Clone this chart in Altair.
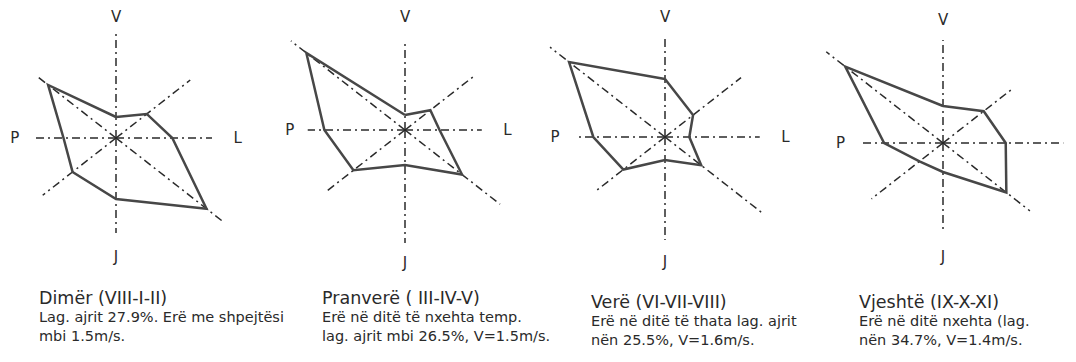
import math
import altair as alt
import pandas as pd

# ---------------- data ----------------
directions = ["V", "VL", "L", "JL", "J", "JP", "P", "VP"]
angles = [0, 45, 90, 135, 180, 225, 270, 315]

seasons = ["Dimër", "Pranverë", "Verë", "Vjeshtë"]
dimer = [21, 34, 44, 100, 61, 48, 41, 75]
pranvere = [15, 28, 27, 63, 35, 57, 63, 109]
vere = [58, 31, 19, 40, 23, 46, 56, 106]
vjeshte = [37, 45, 49, 70, 29, 26, 46, 108]
series = [dimer, pranvere, vere, vjeshte]

# length of the dash-dot direction lines, per season
axis_len_dimer = [106, 82, 75, 119, 95, 81, 65, 88]
axis_len_pranvere = [88, 77, 60, 105, 113, 87, 76, 126]
axis_len_vere = [98, 84, 74, 107, 103, 78, 70, 127]
axis_len_vjeshte = [103, 76, 94, 96, 90, 79, 64, 129]
axis_lens = [axis_len_dimer, axis_len_pranvere, axis_len_vere, axis_len_vjeshte]

axis_labels = ["V", "L", "J", "P"]
label_angles = [0, 90, 180, 270]
label_r_dimer = [121, 95, 119, 79]
label_r_pranvere = [113, 80, 133, 90]
label_r_vere = [120, 94, 125, 86]
label_r_vjeshte = [123, 105, 114, 80]
label_rs = [label_r_dimer, label_r_pranvere, label_r_vere, label_r_vjeshte]

titles = ["Dimër (VIII-I-II)", "Pranverë ( III-IV-V)", "Verë (VI-VII-VIII)", "Vjeshtë (IX-X-XI)"]
bodies = [
    ["Lag. ajrit 27.9%. Erë me shpejtësi", "mbi 1.5m/s."],
    ["Erë në ditë të nxehta temp.", "lag. ajrit mbi 26.5%, V=1.5m/s."],
    ["Erë në ditë të thata lag. ajrit", "nën 25.5%, V=1.6m/s."],
    ["Erë në ditë  nxehta (lag.", "nën 34.7%, V=1.4m/s."],
]

# ---------------- layout ----------------
H = 346
XS = 1.28  # horizontal pixels per unit (figure is stretched horizontally)
bounds = [0, 262, 535, 800, 1060]
centers_x = [108, 397, 657, 935]
centers_y = [130, 122, 129, 135]
caption_x = [31, 52, 48, 51]
caption_y = [296, 296, 300, 300]

FONT = "DejaVu Sans"
INK = "#2a2a2a"


def polar(r, a):
    return r * math.sin(math.radians(a)), r * math.cos(math.radians(a))


panels = []
for i in range(4):
    w = bounds[i + 1] - bounds[i]
    cxl = centers_x[i] - bounds[i]
    xdom = [-cxl / XS, (w - cxl) / XS]
    ydom = [-(H - centers_y[i]), centers_y[i]]
    xs = alt.Scale(domain=xdom, nice=False, zero=False)
    ys = alt.Scale(domain=ydom, nice=False, zero=False)

    ax_rows = []
    for d, a, L in zip(directions, angles, axis_lens[i]):
        ex, ey = polar(L, a)
        ax_rows.append({"dir": d, "x": 0.0, "y": 0.0, "x2": ex, "y2": ey})
    ax_df = pd.DataFrame(ax_rows)

    poly_rows = []
    vals = series[i]
    for k in range(len(directions) + 1):
        j = k % len(directions)
        px, py = polar(vals[j], angles[j])
        poly_rows.append({"order": k, "dir": directions[j], "x": px, "y": py})
    poly_df = pd.DataFrame(poly_rows)

    lab_rows = []
    for t, a, r in zip(axis_labels, label_angles, label_rs[i]):
        lx, ly = polar(r, a)
        lab_rows.append({"t": t, "x": lx, "y": ly})
    lab_df = pd.DataFrame(lab_rows)

    axes = alt.Chart(ax_df).mark_rule(
        color=INK, strokeWidth=1.5, strokeDash=[8, 4, 2, 4]
    ).encode(
        x=alt.X("x:Q", scale=xs, axis=None),
        y=alt.Y("y:Q", scale=ys, axis=None),
        x2="x2:Q",
        y2="y2:Q",
    )

    poly = alt.Chart(poly_df).mark_line(
        color="#474747", strokeWidth=2.5, strokeJoin="miter"
    ).encode(
        x=alt.X("x:Q", scale=xs, axis=None),
        y=alt.Y("y:Q", scale=ys, axis=None),
        order="order:Q",
    )

    labels = alt.Chart(lab_df).mark_text(
        font=FONT, fontSize=15, color=INK, align="center", baseline="middle",
        clip=(i == 3),
    ).encode(
        x=alt.X("x:Q", scale=xs, axis=None),
        y=alt.Y("y:Q", scale=ys, axis=None),
        text="t:N",
    )

    title = alt.Chart(pd.DataFrame({"t": [titles[i]]})).mark_text(
        font=FONT, fontSize=17.5, color=INK, align="left", baseline="alphabetic"
    ).encode(x=alt.value(caption_x[i]), y=alt.value(caption_y[i]), text="t:N")

    body = alt.Chart(pd.DataFrame({"t": [bodies[i]]})).mark_text(
        font=FONT, fontSize=14.5, color=INK, align="left", baseline="alphabetic",
        lineHeight=19,
    ).encode(x=alt.value(caption_x[i]), y=alt.value(caption_y[i] + 18), text="t")

    panel = alt.layer(axes, poly, labels, title, body).properties(width=w, height=H)
    panels.append(panel)

chart = alt.hconcat(*panels, spacing=0, bounds="flush").properties(
    padding=0, background="white"
).configure_view(stroke=None)

chart.save("out.html", embed_options={"renderer": "svg", "actions": False})
